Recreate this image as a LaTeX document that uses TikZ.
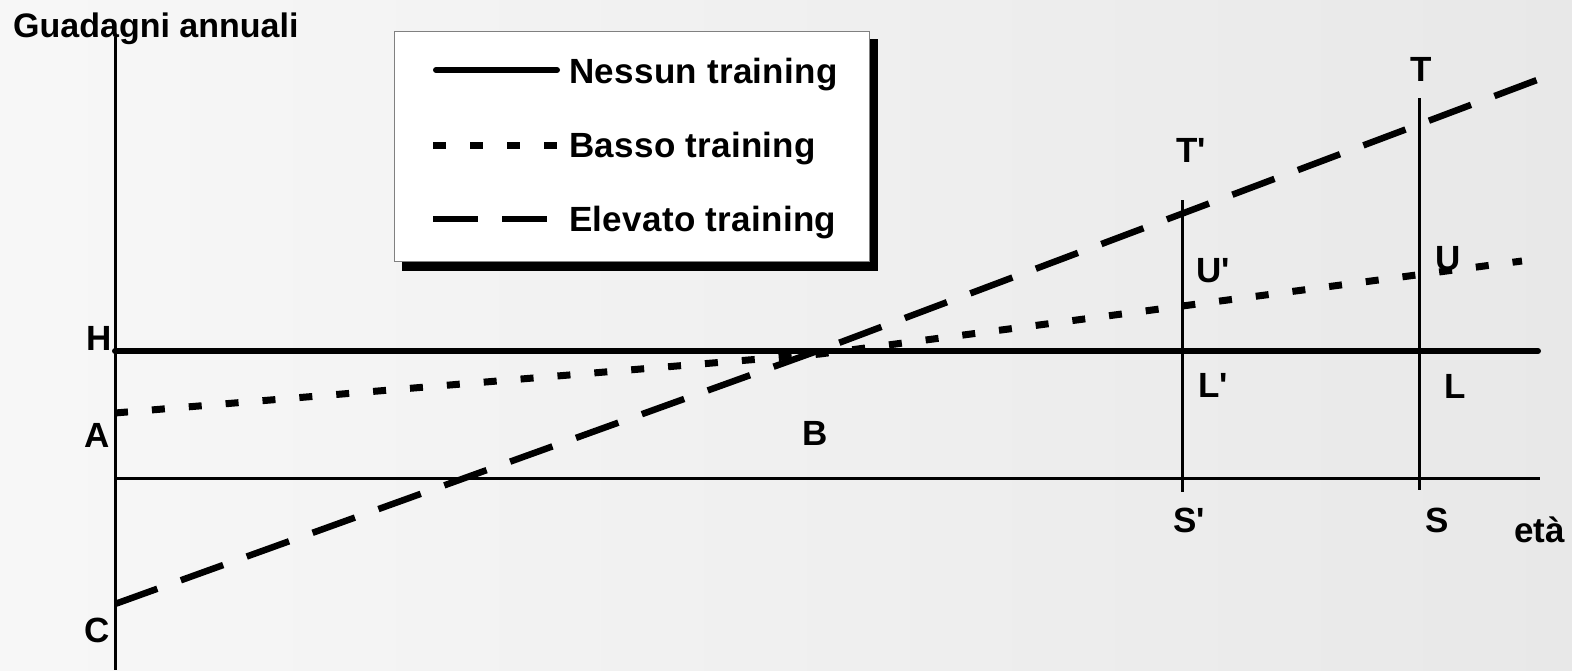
\documentclass[tikz,border=0pt]{standalone}
\usepackage{fontspec}
\setmainfont{Liberation Sans}
\newcommand{\ap}{\textquotesingle}
\begin{document}
\begin{tikzpicture}[x=1pt,y=-1pt,
  thinline/.style={line width=3pt},
  nonetr/.style={line width=6pt,line cap=round},
  lowtr/.style={line width=7pt,dash pattern=on 13pt off 24pt},
  hightr/.style={line width=6.5pt,dash pattern=on 45pt off 25pt},
  lbl/.style={font=\fontsize{35}{40}\selectfont\bfseries,inner sep=0pt,anchor=base west},
  legtxt/.style={font=\fontsize{35}{40}\selectfont\bfseries\addfontfeatures{LetterSpace=0.9},inner sep=0pt,anchor=base west}]
\useasboundingbox (0,0) rectangle (1572,670);
\shade[left color=white!97!black,right color=black!9] (0,0) rectangle (1572,670);
% coordinates
\coordinate (ytop) at (115,37);
\coordinate (ybot) at (115,670);
\coordinate (xl) at (115,478);
\coordinate (xr) at (1540,478);
\coordinate (hl) at (115,351);
\coordinate (hr) at (1538,351);
\coordinate (sp1) at (1182,200);
\coordinate (sp2) at (1182,492);
\coordinate (s1) at (1419,98);
\coordinate (s2) at (1419,490);
\coordinate (cst) at (115,604);
\coordinate (bk) at (820,350);
\coordinate (hend) at (1537,80);
\coordinate (ast) at (115,413);
\coordinate (lk) at (820,354);
\coordinate (lend) at (1522,261);
% axes and lines
\draw[thinline] (ytop) -- (ybot);
\draw[thinline] (xl) -- (xr);
\draw[thinline] (sp1) -- (sp2);
\draw[thinline] (s1) -- (s2);
\draw[lowtr] (ast) -- (lk) -- (lend);
\draw[hightr] (cst) -- (bk) -- (hend);
\draw[nonetr] (hl) -- (hr);
% legend
\fill[black] (402,39) rectangle (878,271);
\draw[draw=gray,fill=white,line width=1pt] (394,31) rectangle (869,261);
\coordinate (l1a) at (436,70); \coordinate (l1b) at (557,70);
\coordinate (l2a) at (433,145); \coordinate (l2b) at (560,145);
\coordinate (l3a) at (433,219); \coordinate (l3b) at (548,219);
\draw[nonetr] (l1a) -- (l1b);
\draw[lowtr,dash pattern=on 13pt off 24pt] (l2a) -- (l2b);
\draw[hightr,dash pattern=on 45pt off 24pt] (l3a) -- (l3b);
\node[legtxt] (n1) at (569,83) {Nessun training};
\node[legtxt] (n2) at (569,157) {Basso training};
\node[legtxt] (n3) at (569,231) {Elevato training};
% labels
\node[lbl,font=\fontsize{34}{40}\selectfont\bfseries] (ga) at (13,37) {Guadagni annuali};
\node[lbl] (lH) at (86,350) {H};
\node[lbl] (lA) at (84,447) {A};
\node[lbl] (lC) at (84,642) {C};
\node[lbl] (lB) at (802,445) {B};
\node[lbl] (lTp) at (1176,162) {T\ap};
\node[lbl] (lT) at (1410,81) {T};
\node[lbl] (lUp) at (1196,282) {U\ap};
\node[lbl] (lU) at (1435,270) {U};
\node[lbl] (lLp) at (1198,397) {L\ap};
\node[lbl] (lL) at (1444,398) {L};
\node[lbl] (lSp) at (1173,532) {S\ap};
\node[lbl] (lS) at (1425,532) {S};
\node[lbl] (eta) at (1514,542) {età};
\end{tikzpicture}
\end{document}
